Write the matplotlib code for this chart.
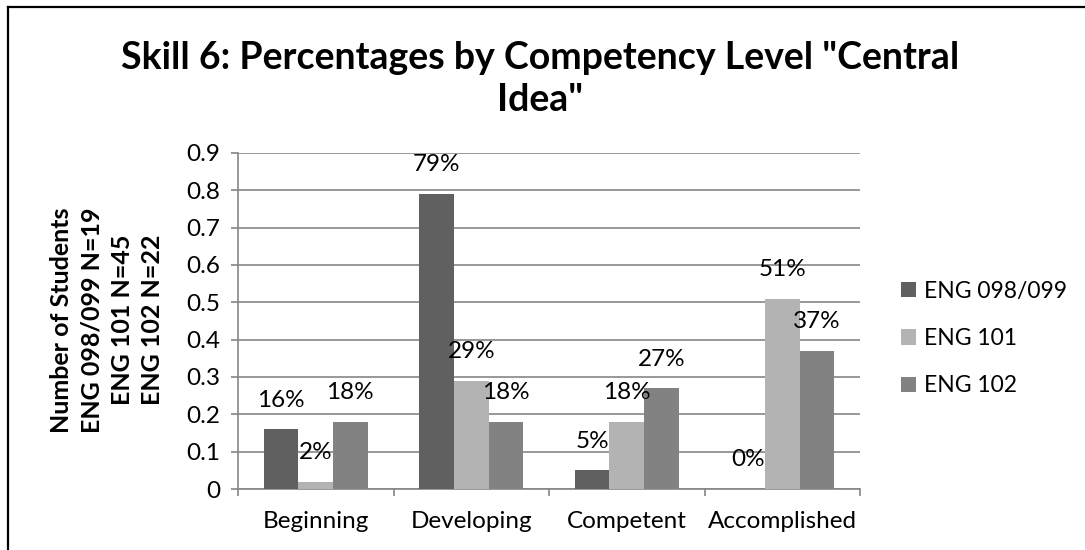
import matplotlib
matplotlib.use("Agg")
import matplotlib.pyplot as plt
import numpy as np
from matplotlib.lines import Line2D
from matplotlib.patches import Patch

categories = ["Beginning", "Developing", "Competent", "Accomplished"]
series_names = ["ENG 098/099", "ENG 101", "ENG 102"]
eng_098_099 = [0.16, 0.79, 0.05, 0.00]
eng_101 = [0.02, 0.29, 0.18, 0.51]
eng_102 = [0.18, 0.18, 0.27, 0.37]
y_ticks = [0, 0.1, 0.2, 0.3, 0.4, 0.5, 0.6, 0.7, 0.8, 0.9]
y_tick_labels = ["0", "0.1", "0.2", "0.3", "0.4", "0.5", "0.6", "0.7", "0.8", "0.9"]
title = 'Skill 6: Percentages by Competency Level "Central\nIdea"'
y_label = "Number of Students\nENG 098/099 N=19\nENG 101 N=45\nENG 102 N=22"

colors = ["#606060", "#b3b3b3", "#828282"]
FONT = "Lato"
FS = 17.5
W, H = 1085, 550

fig = plt.figure(figsize=(W / 100, H / 100), dpi=100)
ax = fig.add_axes([238 / W, 1 - 489 / H, (860 - 238) / W, (489 - 153) / H])

x = np.arange(len(categories))
bar_w = 1 / 4.5
all_series = [eng_098_099, eng_101, eng_102]
for i, (vals, col) in enumerate(zip(all_series, colors)):
    pos = x + (i - 1) * bar_w
    ax.bar(pos, vals, width=bar_w, color=col, zorder=3)
    for px, v in zip(pos, vals):
        ax.annotate(f"{round(v * 100):.0f}%", (px, v), xytext=(0, 21),
                    textcoords="offset points", ha="center", va="center",
                    fontsize=FS, family=FONT, color="black", zorder=4)

ax.set_xlim(-0.5, len(categories) - 0.5)
ax.set_ylim(0, 0.9)
ax.set_yticks(y_ticks)
ax.set_yticklabels(y_tick_labels, family=FONT, fontsize=FS)
ax.yaxis.grid(True, color="#868686", linewidth=1.2, zorder=0)
ax.set_axisbelow(True)

# category labels sit between boundary ticks
ax.set_xticks(np.arange(len(categories) + 1) - 0.5)
ax.set_xticklabels([])
ax.set_xticks(x, minor=True)
ax.set_xticklabels(categories, minor=True, family=FONT, fontsize=FS)
ax.tick_params(axis="x", which="minor", length=0, pad=16)
ax.tick_params(axis="x", which="major", length=5, color="#868686", width=1.2)
ax.tick_params(axis="y", length=5, color="#868686", width=1.2, pad=8)

for side in ["top", "right"]:
    ax.spines[side].set_visible(False)
for side in ["left", "bottom"]:
    ax.spines[side].set_color("#868686")
    ax.spines[side].set_linewidth(1.2)

fig.text(540 / W, 1 - 79 / H, title, ha="center", va="center",
         fontsize=27, fontweight="bold", family=FONT, linespacing=1.3)

fig.text(107 / W, 1 - 320 / H, y_label, ha="center", va="center", rotation=90,
         fontsize=18, fontweight="bold", family=FONT, linespacing=1.38)

handles = [Patch(facecolor=c, edgecolor="none") for c in colors]
leg = fig.legend(handles, series_names, loc="upper left",
                 bbox_to_anchor=(880 / W, 1 - 260 / H), frameon=False,
                 prop={"family": FONT, "size": 16.5}, handlelength=0.65,
                 handleheight=0.65, handletextpad=0.35, labelspacing=1.15)

# surrounding frame of the figure box
fig.add_artist(Line2D([8 / W, 1], [1 - 7 / H, 1 - 7 / H], color="black", linewidth=1.6))
fig.add_artist(Line2D([8 / W, 8 / W], [0, 1 - 7 / H], color="black", linewidth=1.6))

fig.savefig("out.png", dpi=100)
